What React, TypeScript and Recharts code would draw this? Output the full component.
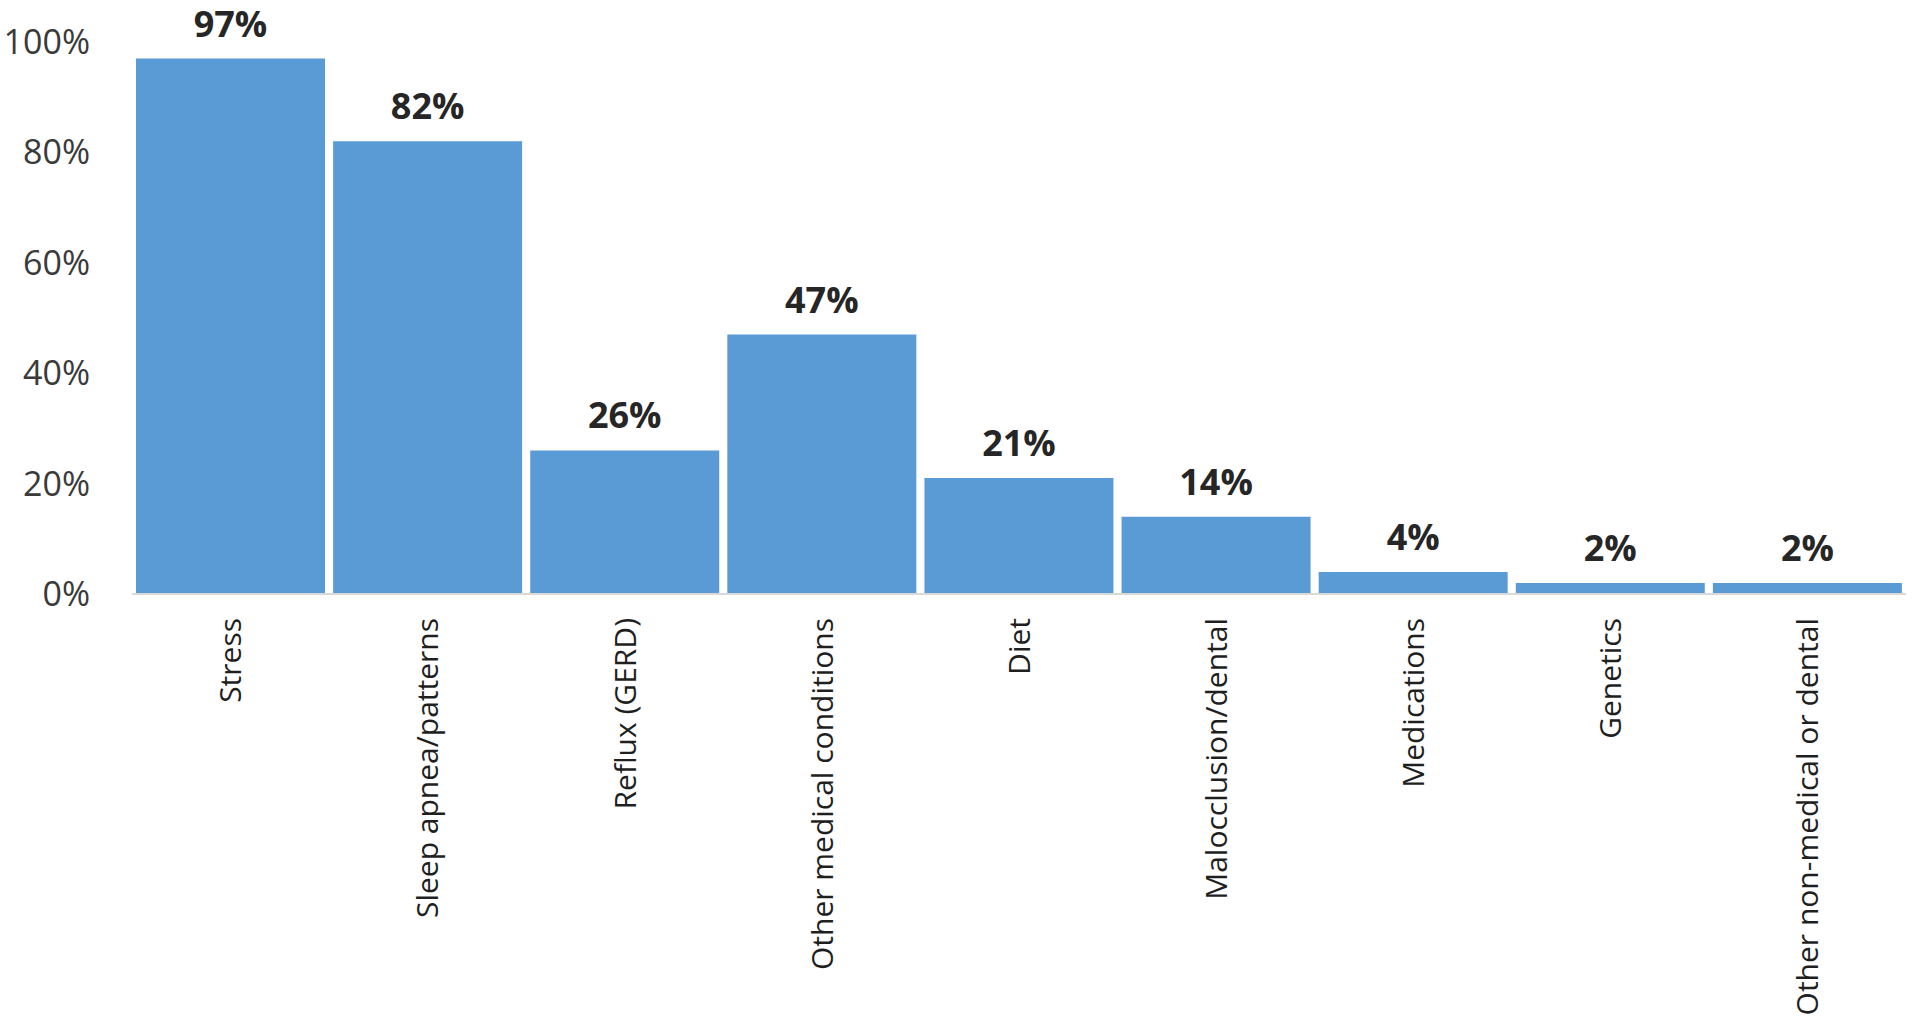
import React from 'react';
import { BarChart, Bar, XAxis, YAxis, LabelList } from 'recharts';

const causes = [
  'Stress',
  'Sleep apnea/patterns',
  'Reflux (GERD)',
  'Other medical conditions',
  'Diet',
  'Malocclusion/dental',
  'Medications',
  'Genetics',
  'Other non-medical or dental',
];
const shares = [97, 82, 26, 47, 21, 14, 4, 2, 2];
const yTicks = [0, 20, 40, 60, 80, 100];

const data = causes.map((name, i) => ({ name, value: shares[i] }));

const FONT = '"Open Sans", sans-serif';

// rotated category label, end of text sits just under the axis
const CauseTick = (props: any) => {
  const { x, y, payload } = props;
  return (
    <text
      x={x}
      y={y}
      transform={`rotate(-90, ${x}, ${y})`}
      textAnchor="end"
      dy="0.36em"
      fontSize={30}
      fontFamily={FONT}
      fill="#1f1f1f"
    >
      {payload.value}
    </text>
  );
};

export default function App() {
  return (
    <div style={{ position: 'absolute', left: 0, top: 0, background: '#fff' }}>
      <BarChart
        width={1920}
        height={1025}
        data={data}
        margin={{ top: 42, right: 14, left: 0, bottom: 0 }}
        barCategoryGap={4}
      >
        <XAxis
          dataKey="name"
          interval={0}
          height={431}
          axisLine={{ stroke: '#d9d9d9', strokeWidth: 2 }}
          tickLine={false}
          tickSize={0}
          tickMargin={24}
          tick={<CauseTick />}
        />
        <YAxis
          width={132}
          domain={[0, 100]}
          ticks={yTicks}
          axisLine={false}
          tickLine={false}
          tickSize={0}
          tickMargin={42}
          tickFormatter={(v: number) => `${v}%`}
          tick={{ fontSize: 34, fontFamily: FONT, fill: '#3a3a3a' }}
        />
        <Bar dataKey="value" fill="#5b9bd5" isAnimationActive={false}>
          <LabelList
            dataKey="value"
            position="top"
            offset={22}
            formatter={(v: any) => `${v}%`}
            style={{ fontSize: 36, fontWeight: 'bold', fontFamily: FONT, fill: '#262626' }}
          />
        </Bar>
      </BarChart>
    </div>
  );
}
